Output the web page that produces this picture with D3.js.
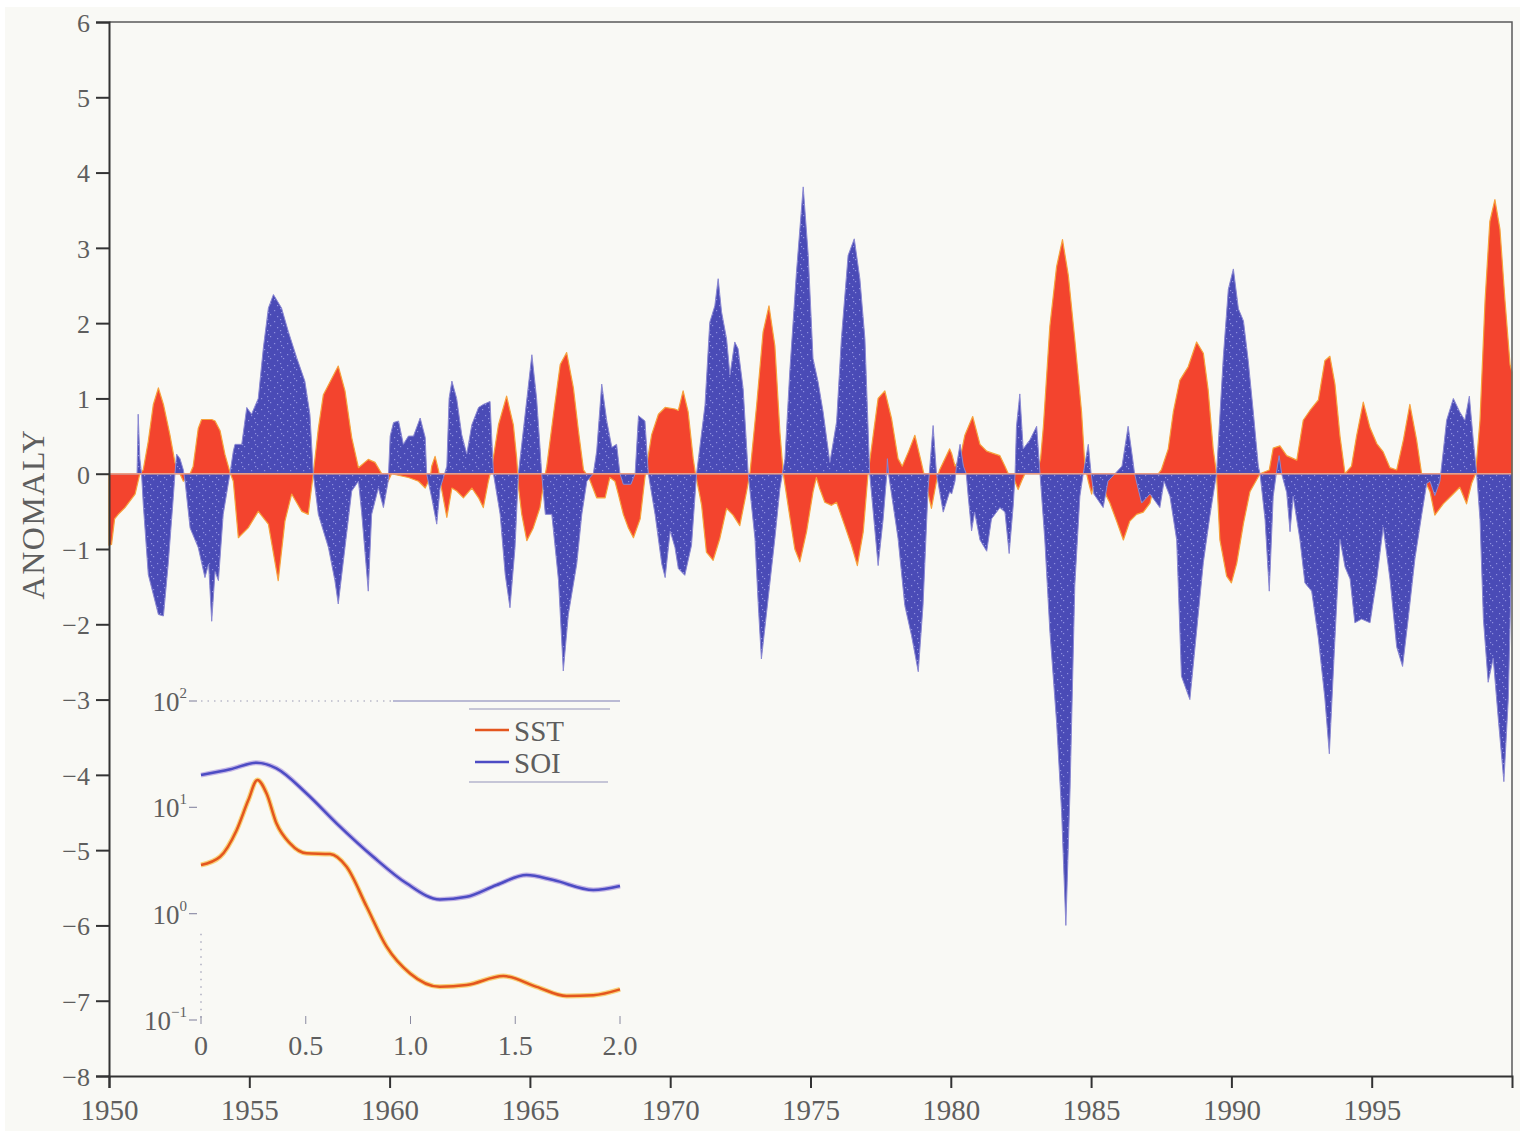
<!DOCTYPE html>
<html>
<head>
<meta charset="utf-8">
<script src="https://cdn.jsdelivr.net/npm/d3@7"></script>
<style>
  body { margin: 0; background: #fff; }
  svg { display: block; }
  text { font-family: "Liberation Serif", "DejaVu Serif", serif; fill: #5e5e5e; }
</style>
</head>
<body>
<svg id="chart" width="1520" height="1131"></svg>
<script>
// SST anomaly (red), [year, value]
const sst = [
  [1950.0,-0.95],[1950.09,-0.94],[1950.2,-0.6],[1950.33,-0.54],[1950.57,-0.45],[1950.93,-0.27],[1951.1,0],
  [1951.22,0.05],[1951.4,0.43],[1951.58,0.92],[1951.76,1.14],[1951.94,0.92],[1952.17,0.52],[1952.35,0.15],
  [1952.53,0],[1952.65,-0.1],[1952.77,-0.05],[1952.89,0],[1953.0,0.1],[1953.18,0.6],[1953.3,0.72],[1953.66,0.72],
  [1953.78,0.7],[1953.96,0.57],[1954.13,0.26],[1954.31,0.02],[1954.43,-0.1],[1954.61,-0.85],[1954.96,-0.72],
  [1955.32,-0.5],[1955.68,-0.67],[1956.03,-1.42],[1956.27,-0.63],[1956.51,-0.27],[1956.87,-0.5],[1957.1,-0.54],
  [1957.28,0],[1957.46,0.6],[1957.64,1.05],[1958.17,1.43],[1958.41,1.1],[1958.65,0.48],[1958.89,0.08],
  [1959.24,0.19],[1959.48,0.15],[1959.72,0],[1959.95,-0.1],
  [1960.07,0],[1960.3,-0.02],[1960.67,-0.05],[1961.03,-0.1],[1961.27,-0.19],[1961.45,-0.05],[1961.5,0.1],
  [1961.62,0.23],[1961.74,0.05],[1961.85,-0.2],[1962.04,-0.58],[1962.22,-0.19],[1962.39,-0.23],[1962.63,-0.32],
  [1962.93,-0.19],[1963.17,-0.32],[1963.34,-0.45],[1963.52,-0.1],[1963.65,0.1],[1963.88,0.65],[1964.17,1.03],
  [1964.41,0.65],[1964.53,0.2],[1964.6,-0.2],[1964.71,-0.54],[1964.89,-0.89],[1965.12,-0.72],[1965.36,-0.45],
  [1965.5,-0.1],[1965.6,0.1],[1965.84,0.79],[1966.08,1.45],[1966.31,1.61],[1966.55,1.14],[1966.73,0.57],
  [1966.91,0.05],[1967.1,-0.05],[1967.38,-0.32],[1967.68,-0.32],[1967.85,-0.05],[1968.03,-0.1],[1968.15,-0.27],
  [1968.33,-0.54],[1968.51,-0.72],[1968.69,-0.85],[1968.93,-0.6],[1969.1,-0.05],[1969.2,0.2],[1969.34,0.52],
  [1969.58,0.79],[1969.82,0.88],
  [1970.17,0.86],[1970.29,0.84],[1970.46,1.1],[1970.64,0.82],[1970.82,0.2],[1970.9,0],[1971.06,-0.3],
  [1971.12,-0.42],[1971.29,-1.04],[1971.53,-1.15],[1971.77,-0.86],[1972.01,-0.46],[1972.24,-0.55],[1972.48,-0.69],
  [1972.72,-0.24],[1972.84,0],[1973.08,0.91],[1973.31,1.88],[1973.52,2.23],[1973.73,1.7],[1973.91,0.55],
  [1974.03,0],[1974.2,-0.42],[1974.44,-1.0],[1974.62,-1.17],[1974.86,-0.77],[1975.09,-0.24],[1975.21,-0.05],
  [1975.33,-0.2],[1975.51,-0.38],[1975.75,-0.42],[1975.93,-0.38],[1976.22,-0.69],[1976.46,-0.95],[1976.67,-1.22],
  [1976.88,-0.77],[1977.05,0],[1977.23,0.5],[1977.41,1.0],[1977.65,1.1],[1977.89,0.73],[1978.12,0.2],
  [1978.27,0.1],[1978.5,0.3],[1978.72,0.51],[1978.95,0.15],[1979.1,-0.1],[1979.31,-0.46],[1979.49,-0.1],
  [1979.6,0.05],[1979.96,0.33],
  [1980.03,0.27],[1980.15,0.1],[1980.33,0.2],[1980.5,0.51],[1980.78,0.76],[1981.04,0.39],[1981.28,0.3],
  [1981.51,0.27],[1981.75,0.24],[1981.93,0.1],[1982.05,0],[1982.23,-0.05],[1982.4,-0.21],[1982.52,-0.1],
  [1982.64,0],[1983.06,0],[1983.2,0.2],[1983.3,0.63],[1983.53,1.96],[1983.77,2.75],[1983.98,3.11],[1984.19,2.63],
  [1984.42,1.78],[1984.66,0.82],[1984.78,0.1],[1984.9,-0.1],[1985.02,-0.27],[1985.12,-0.05],[1985.4,-0.1],
  [1985.55,-0.3],[1985.67,-0.39],[1985.91,-0.63],[1986.15,-0.88],[1986.38,-0.63],[1986.62,-0.54],[1986.86,-0.51],
  [1987.1,-0.39],[1987.3,-0.05],[1987.5,0.05],[1987.75,0.33],[1987.93,0.82],[1988.16,1.24],[1988.46,1.42],
  [1988.76,1.75],[1989.0,1.6],[1989.17,1.12],[1989.35,0.33],[1989.47,0],[1989.59,-0.88],[1989.83,-1.36],
  [1990.0,-1.45],[1990.19,-1.19],[1990.43,-0.66],[1990.66,-0.24],[1990.9,-0.08],[1991.02,0],[1991.35,0.05],
  [1991.49,0.34],[1991.73,0.37],[1991.97,0.24],[1992.33,0.18],[1992.56,0.71],[1992.8,0.84],[1993.1,0.98],
  [1993.33,1.5],[1993.51,1.56],[1993.69,1.19],[1993.87,0.5],[1994.05,0],[1994.28,0.1],[1994.46,0.5],
  [1994.7,0.95],[1994.94,0.61],[1995.18,0.4],[1995.41,0.29],[1995.65,0.08],[1995.89,0.05],[1996.13,0.45],
  [1996.36,0.92],[1996.6,0.45],[1996.78,0],[1997.08,-0.24],[1997.25,-0.55],[1997.55,-0.4],[1997.85,-0.29],
  [1998.14,-0.18],[1998.38,-0.4],[1998.56,-0.13],[1998.7,0],[1998.86,0.71],[1999.04,2.3],[1999.21,3.35],
  [1999.39,3.64],[1999.57,3.25],[1999.75,2.3],[1999.93,1.45],[2000.0,1.35]
]

// SOI (blue), [year, value]
const soi = [
  [1950.0,0],[1951.0,0],[1951.04,0.79],[1951.1,0.2],[1951.16,0],[1951.22,-0.4],[1951.4,-1.34],[1951.76,-1.87],
  [1951.94,-1.89],[1952.11,-1.2],[1952.29,-0.32],[1952.35,0],[1952.41,0.26],[1952.53,0.2],[1952.65,0.05],
  [1952.71,-0.1],[1952.89,-0.72],[1953.18,-0.98],[1953.42,-1.38],[1953.55,-1.2],[1953.66,-1.96],[1953.78,-1.3],
  [1953.9,-1.42],[1954.07,-0.54],[1954.31,0],[1954.43,0.3],[1954.49,0.39],[1954.73,0.39],[1954.91,0.88],
  [1955.08,0.79],[1955.32,1.0],[1955.5,1.67],[1955.68,2.2],[1955.86,2.38],[1956.15,2.2],[1956.39,1.89],
  [1956.69,1.54],[1956.98,1.23],[1957.16,0.79],[1957.28,0],[1957.46,-0.54],[1957.82,-0.98],[1958.05,-1.42],
  [1958.17,-1.73],[1958.41,-0.98],[1958.65,-0.23],[1958.89,-0.1],[1959.0,-0.5],[1959.24,-1.56],[1959.36,-0.54],
  [1959.6,-0.19],[1959.78,-0.45],[1959.95,-0.1],
  [1960.02,0.5],[1960.14,0.68],[1960.32,0.7],[1960.49,0.39],[1960.67,0.5],[1960.85,0.5],[1961.09,0.74],
  [1961.27,0.48],[1961.32,0],[1961.5,-0.32],[1961.68,-0.67],[1961.8,-0.19],[1961.92,-0.05],[1962.04,0.1],
  [1962.12,1.0],[1962.22,1.23],[1962.39,1.0],[1962.57,0.52],[1962.75,0.26],[1962.93,0.65],[1963.17,0.88],
  [1963.34,0.92],[1963.58,0.96],[1963.7,0],[1963.94,-0.54],[1964.12,-1.34],[1964.29,-1.78],[1964.47,-0.98],
  [1964.59,0],[1964.83,0.79],[1965.07,1.58],[1965.24,1.0],[1965.36,0.35],[1965.42,0],[1965.55,-0.54],
  [1965.78,-0.54],[1966.02,-1.42],[1966.19,-2.62],[1966.37,-1.87],[1966.67,-1.2],[1966.85,-0.54],[1967.03,-0.1],
  [1967.26,0],[1967.38,0.3],[1967.56,1.19],[1967.74,0.7],[1967.92,0.35],[1968.09,0.39],[1968.21,0],
  [1968.33,-0.14],[1968.6,-0.14],[1968.75,0],[1968.87,0.77],[1969.1,0.7],[1969.22,0],[1969.46,-0.54],
  [1969.7,-1.2],[1969.82,-1.38],[1970.0,-0.76],
  [1970.17,-0.98],[1970.29,-1.26],[1970.52,-1.35],[1970.76,-0.95],[1970.94,0],[1971.24,0.91],[1971.41,2.01],
  [1971.59,2.23],[1971.71,2.59],[1971.83,2.15],[1972.01,1.79],[1972.13,1.31],[1972.3,1.75],[1972.42,1.66],
  [1972.6,1.13],[1972.78,0],[1973.02,-0.86],[1973.14,-1.75],[1973.25,-2.46],[1973.49,-1.66],[1973.73,-0.86],
  [1973.91,-0.2],[1974.09,0.2],[1974.26,1.35],[1974.5,2.68],[1974.74,3.81],[1974.92,2.9],[1975.09,1.53],
  [1975.27,1.22],[1975.45,0.82],[1975.69,0.15],[1975.93,0.69],[1976.1,1.79],[1976.34,2.9],[1976.56,3.12],
  [1976.76,2.59],[1976.94,1.79],[1977.11,0],[1977.41,-1.22],[1977.59,-0.6],[1977.72,0],[1977.74,0.2],
  [1977.78,0],[1978.12,-0.86],[1978.36,-1.75],[1978.6,-2.15],[1978.84,-2.63],[1979.01,-1.75],[1979.19,-0.2],
  [1979.37,0.64],[1979.49,0],[1979.73,-0.51],[1979.96,-0.24],
  [1980.03,-0.27],[1980.15,-0.1],[1980.2,0.1],[1980.33,0.39],[1980.45,0.1],[1980.55,0],[1980.62,-0.3],
  [1980.74,-0.76],[1980.85,-0.51],[1981.04,-0.88],[1981.28,-1.03],[1981.45,-0.6],[1981.75,-0.45],[1981.93,-0.51],
  [1982.08,-1.06],[1982.23,-0.4],[1982.29,0],[1982.34,0.63],[1982.46,1.06],[1982.58,0.33],[1982.82,0.45],
  [1983.06,0.63],[1983.18,0],[1983.35,-0.88],[1983.53,-2.09],[1983.77,-3.3],[1983.95,-4.5],[1984.1,-6.0],
  [1984.25,-4.2],[1984.42,-1.48],[1984.6,-0.3],[1984.72,0],[1984.9,0.39],[1985.0,0],[1985.1,-0.27],
  [1985.43,-0.45],[1985.6,-0.1],[1986.1,0.1],[1986.32,0.63],[1986.48,0.2],[1986.55,0],[1986.8,-0.39],
  [1987.1,-0.27],[1987.45,-0.45],[1987.6,-0.1],[1987.81,-0.3],[1988.05,-0.88],[1988.22,-2.69],[1988.52,-3.0],
  [1988.76,-2.09],[1989.0,-1.18],[1989.23,-0.57],[1989.47,0],[1989.71,1.54],[1989.89,2.45],
  [1990.07,2.72],[1990.25,2.19],[1990.43,2.03],[1990.6,1.5],[1990.78,0.82],[1990.96,0.1],[1991.02,0],
  [1991.2,-0.61],[1991.35,-1.56],[1991.49,-0.3],[1991.6,0],[1991.7,0.24],[1991.79,0],[1991.97,-0.25],
  [1992.09,-0.77],[1992.2,-0.3],[1992.44,-0.87],[1992.62,-1.45],[1992.86,-1.56],[1993.1,-2.19],[1993.33,-2.98],
  [1993.49,-3.72],[1993.69,-2.19],[1993.87,-0.87],[1994.05,-1.24],[1994.23,-1.4],[1994.4,-1.98],[1994.64,-1.93],
  [1994.94,-1.98],[1995.18,-1.4],[1995.41,-0.71],[1995.65,-1.4],[1995.89,-2.3],[1996.1,-2.56],[1996.3,-1.93],
  [1996.54,-1.13],[1996.78,-0.55],[1996.96,-0.13],[1997.08,-0.1],[1997.25,-0.29],[1997.43,-0.1],[1997.55,0.3],
  [1997.67,0.71],[1997.91,1.0],[1998.14,0.82],[1998.32,0.71],[1998.48,1.03],[1998.62,0.45],[1998.74,0],
  [1998.86,-0.61],[1998.98,-1.93],[1999.15,-2.77],[1999.33,-2.45],[1999.51,-3.25],[1999.71,-4.09],
  [1999.87,-2.98],[2000.0,-0.87]
]

// inset spectra, [frequency, power]
const sstSpec = [
  [0,2.87],[0.091,3.43],[0.17,6.1],[0.226,11.7],[0.269,18.1],[0.313,13.5],[0.36,7.08],[0.425,4.58],
  [0.504,3.69],[0.616,3.64],[0.695,2.76],[0.791,1.16],[0.886,0.489],[0.998,0.274],[1.14,0.205],
  [1.268,0.213],[1.443,0.259],[1.602,0.205],[1.745,0.168],[1.873,0.171],[2.0,0.194]
]
const soiSpec = [
  [0,20.1],[0.14,22.8],[0.266,26.3],[0.36,23.3],[0.504,13.5],[0.647,7.08],[0.822,3.43],[0.981,1.93],
  [1.14,1.36],[1.268,1.44],[1.411,1.86],[1.554,2.31],[1.682,2.07],[1.873,1.67],[2.0,1.82]
]

const yearTicks = [1950, 1955, 1960, 1965, 1970, 1975, 1980, 1985, 1990, 1995]
const anomalyTicks = [6, 5, 4, 3, 2, 1, 0, -1, -2, -3, -4, -5, -6, -7, -8]
const freqTicks = [0, 0.5, 1.0, 1.5, 2.0]
const powerTicks = [100, 10, 1, 0.1]
const powerLabels = ['2', '1', '0', '\u22121']

const svg = d3.select('#chart')

svg.append('rect')
    .attr('x', 5).attr('y', 7)
    .attr('width', 1515).attr('height', 1124)
    .attr('fill', '#f9f9f5')

const defs = svg.append('defs')
const pat = defs.append('pattern')
    .attr('id', 'speckle')
    .attr('patternUnits', 'userSpaceOnUse')
    .attr('width', 13).attr('height', 11)
pat.append('rect').attr('width', 13).attr('height', 11).attr('fill', '#4a4bb6')
const dots = [[1, 2], [7, 0], [10, 6], [4, 8], [8, 4]]
dots.forEach(d => {
    pat.append('rect')
        .attr('x', d[0]).attr('y', d[1])
        .attr('width', 1.2).attr('height', 1.2)
        .attr('fill', '#8f90de')
})

const x = d3.scaleLinear().domain([1950, 2000]).range([109, 1512])
const y = d3.scaleLinear().domain([-8, 6]).range([1076, 22])

let area = d3.area()
    .x(d => x(d[0]))
    .y0(y(0))
    .y1(d => y(d[1]))

svg.append('path')
    .datum(sst)
    .attr('fill', '#f3442e')
    .attr('stroke', '#f6a23c')
    .attr('stroke-width', 1.2)
    .attr('stroke-linejoin', 'round')
    .attr('d', area)

svg.append('path')
    .datum(soi)
    .attr('fill', 'url(#speckle)')
    .attr('stroke', '#8a88d2')
    .attr('stroke-width', 1)
    .attr('stroke-linejoin', 'round')
    .attr('d', area)

// zero line
svg.append('line')
    .attr('x1', x(1950)).attr('x2', x(2000))
    .attr('y1', y(0)).attr('y2', y(0))
    .attr('stroke', '#eb9f86')
    .attr('stroke-width', 1.5)

// frame
svg.append('path')
    .attr('d', `M${x(1950)},${y(6)}H${x(2000)}V${y(-8)}`)
    .attr('fill', 'none')
    .attr('stroke', '#5a5a5a')
    .attr('stroke-width', 1.5)

const yAxis = svg.append('g')
    .attr('transform', `translate(${x(1950)},0)`)
    .call(d3.axisLeft(y).tickValues(anomalyTicks).tickSize(13).tickPadding(6)
        .tickFormat(d => d < 0 ? '\u2212' + Math.abs(d) : d))
const xAxis = svg.append('g')
    .attr('transform', `translate(0,${y(-8)})`)
    .call(d3.axisBottom(x).tickValues(yearTicks).tickSize(12).tickPadding(6).tickFormat(d3.format('d')))

;[yAxis, xAxis].forEach(g => {
    g.select('.domain').attr('stroke', '#333').attr('stroke-width', 2)
    g.selectAll('.tick line').attr('stroke', '#333').attr('stroke-width', 2)
    g.selectAll('.tick text')
        .style('font-family', '"Liberation Serif", serif')
        .attr('fill', '#5e5e5e')
})
yAxis.selectAll('.tick text').style('font-size', '26px').attr('dy', '0.36em')
xAxis.selectAll('.tick text').style('font-size', '29px').attr('dy', '0.9em')

svg.append('text')
    .attr('transform', 'translate(44,514) rotate(-90)')
    .attr('text-anchor', 'middle')
    .style('font-size', '32px')
    .style('letter-spacing', '1.5px')
    .text('ANOMALY')

// inset spectrum
const fx = d3.scaleLinear().domain([0, 2]).range([201, 620])
const fy = d3.scaleLog().domain([0.1, 100]).range([1020, 701])

const inset = svg.append('g')

inset.append('line')
    .attr('x1', fx(0)).attr('x2', 393).attr('y1', fy(100)).attr('y2', fy(100))
    .attr('stroke', '#9a9ab4').attr('stroke-width', 1.2).attr('stroke-dasharray', '1.5,5')
inset.append('line')
    .attr('x1', 393).attr('x2', fx(2)).attr('y1', fy(100)).attr('y2', fy(100))
    .attr('stroke', '#a4a4c8').attr('stroke-width', 1.5)
inset.append('line')
    .attr('x1', fx(0)).attr('x2', fx(0)).attr('y1', fy(1) + 20).attr('y2', fy(0.1))
    .attr('stroke', '#9a9ab4').attr('stroke-width', 1.2).attr('stroke-dasharray', '1.5,6')

powerTicks.forEach((p, i) => {
    inset.append('line')
        .attr('x1', fx(0) - 12).attr('x2', fx(0) - 4)
        .attr('y1', fy(p)).attr('y2', fy(p))
        .attr('stroke', '#9090a8').attr('stroke-width', 1.2)
    const t = inset.append('text')
        .attr('x', fx(0) - 14).attr('y', fy(p) + 10)
        .attr('text-anchor', 'end')
        .style('font-size', '27px')
    t.append('tspan').text('10')
    t.append('tspan').attr('dy', -13).style('font-size', '15px').text(powerLabels[i])
})

freqTicks.forEach(f => {
    inset.append('line')
        .attr('x1', fx(f)).attr('x2', fx(f))
        .attr('y1', 1016).attr('y2', 1024)
        .attr('stroke', '#8a8aa0').attr('stroke-width', 1)
    inset.append('text')
        .attr('x', fx(f)).attr('y', 1055)
        .attr('text-anchor', 'middle')
        .style('font-size', '28px')
        .text(f === 0 ? '0' : f.toFixed(1))
})

let specLine = d3.line()
    .x(d => fx(d[0]))
    .y(d => fy(d[1]))
    .curve(d3.curveMonotoneX)

inset.append('path')
    .datum(soiSpec)
    .attr('fill', 'none')
    .attr('stroke', '#c4b6e6')
    .attr('stroke-width', 5)
    .attr('d', specLine)
inset.append('path')
    .datum(soiSpec)
    .attr('fill', 'none')
    .attr('stroke', '#4d4cc4')
    .attr('stroke-width', 2.5)
    .attr('d', specLine)
inset.append('path')
    .datum(sstSpec)
    .attr('fill', 'none')
    .attr('stroke', '#f8d27a')
    .attr('stroke-width', 5)
    .attr('d', specLine)
inset.append('path')
    .datum(sstSpec)
    .attr('fill', 'none')
    .attr('stroke', '#e4561e')
    .attr('stroke-width', 2.5)
    .attr('d', specLine)

// legend
const legend = inset.append('g')
legend.append('line').attr('x1', 469).attr('x2', 610).attr('y1', 709).attr('y2', 709)
    .attr('stroke', '#b4b4cc').attr('stroke-width', 1.5)
legend.append('line').attr('x1', 469).attr('x2', 608).attr('y1', 782).attr('y2', 782)
    .attr('stroke', '#b4b4cc').attr('stroke-width', 1.5)
const legendItems = [['SST', '#e4561e', 730], ['SOI', '#4d4cc4', 762]]
legendItems.forEach(d => {
    legend.append('line')
        .attr('x1', 475).attr('x2', 509).attr('y1', d[2]).attr('y2', d[2])
        .attr('stroke', d[1]).attr('stroke-width', 2.5)
    legend.append('text')
        .attr('x', 514).attr('y', d[2] + 11)
        .style('font-size', '29px')
        .text(d[0])
})
</script>
</body>
</html>
